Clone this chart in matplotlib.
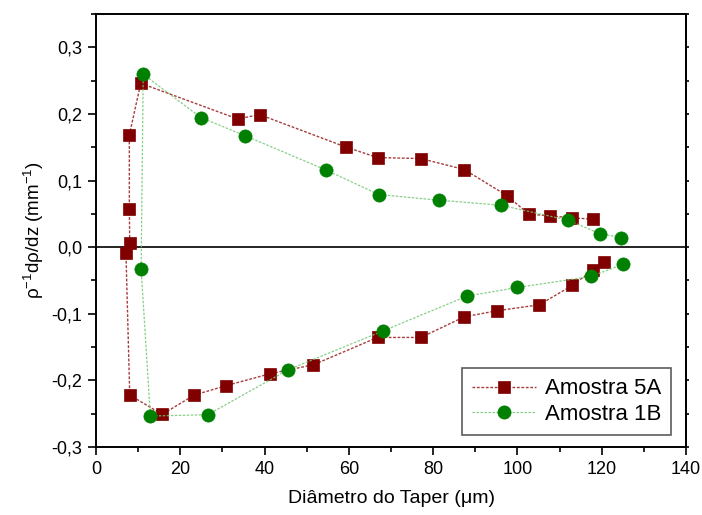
import matplotlib
matplotlib.use('Agg')
import matplotlib.pyplot as plt
from matplotlib.ticker import MultipleLocator, FuncFormatter, NullFormatter

plt.rcParams.update({
    'font.family': ['Liberation Sans', 'DejaVu Sans'],
    'mathtext.fontset': 'custom',
    'mathtext.rm': 'Liberation Sans',
    'mathtext.it': 'Liberation Sans',
    'mathtext.default': 'regular',
    'axes.linewidth': 1.4,
})

# ---------- Data ----------
x_5a = [118.0, 113.0, 107.8, 102.7, 97.5, 87.4, 77.1, 66.8, 59.2, 38.8, 33.6,
        10.6, 7.9, 7.9, 8.0, 7.1, 8.0, 15.7, 23.3, 30.8, 41.3, 51.6, 66.8,
        77.1, 87.4, 95.1, 105.2, 113.0, 118.0, 120.6]
y_5a = [0.042, 0.044, 0.047, 0.0495, 0.0775, 0.1165, 0.133, 0.1345, 0.1505, 0.199,
        0.1925, 0.246, 0.168, 0.058, 0.006, -0.0085, -0.222, -0.251, -0.222, -0.208,
        -0.190, -0.1765, -0.1355, -0.1355, -0.1045, -0.0955, -0.0865, -0.0575,
        -0.034, -0.023]

x_1b = [124.6, 119.7, 112.0, 96.1, 81.3, 67.1, 54.5, 35.3, 24.9, 11.2,
        10.7, 12.9, 26.5, 45.6, 68.2, 88.0, 100.0, 117.5, 125.1]
y_1b = [0.0145, 0.020, 0.0405, 0.063, 0.0705, 0.079, 0.116, 0.1675, 0.1945, 0.2595,
        -0.033, -0.2535, -0.2515, -0.184, -0.1255, -0.0735, -0.0605, -0.044, -0.0255]

RED = '#800000'
GREEN = '#008000'
RED_LINE = (0.6, 0.1, 0.1, 0.85)
GREEN_LINE = (0.45, 0.78, 0.45, 0.85)

fig = plt.figure(figsize=(7.02, 5.15), dpi=100)
ax = fig.add_axes([0.1368, 0.132, 0.8404, 0.8408])

ax.axhline(0, color='black', linewidth=1.2, zorder=1)

ax.plot(x_5a, y_5a, color=RED_LINE, linestyle=(0, (2, 1.2)), linewidth=1.0,
        marker='s', markersize=8.5, markerfacecolor=RED, markeredgecolor=RED,
        markeredgewidth=0.5, label='Amostra 5A', zorder=3)
ax.plot(x_1b, y_1b, color=GREEN_LINE, linestyle=(0, (2, 1.2)), linewidth=0.9,
        marker='o', markersize=9.5, markerfacecolor=GREEN, markeredgecolor=GREEN,
        markeredgewidth=0.5, label='Amostra 1B', zorder=4)

ax.set_xlim(0, 140)
ax.set_ylim(-0.3, 0.35)
ax.xaxis.set_major_locator(MultipleLocator(20))
ax.xaxis.set_minor_locator(MultipleLocator(10))
ax.yaxis.set_major_locator(MultipleLocator(0.1))
ax.yaxis.set_minor_locator(MultipleLocator(0.05))
ax.yaxis.set_major_formatter(FuncFormatter(lambda v, _: f'{v:.1f}'.replace('.', ',').replace('-0,0', '0,0')))

ax.tick_params(axis='both', which='major', direction='out', length=6, width=1.2,
               labelsize=13, pad=4)
ax.tick_params(axis='both', which='minor', direction='out', length=3.5, width=1.2)
ax.tick_params(top=False, right=False, which='both')

# short ticks on the right spine
rax = ax.secondary_yaxis('right')
rax.yaxis.set_major_locator(MultipleLocator(0.05))
rax.yaxis.set_major_formatter(NullFormatter())
rax.tick_params(direction='out', length=2, width=1.2)

ax.set_xlabel('Diâmetro do Taper (μm)', fontsize=14, labelpad=9)
ax.set_ylabel('ρ$^{-1}$dρ/dz (mm$^{-1}$)', fontsize=13.5, labelpad=4)

leg = ax.legend(loc='lower right', bbox_to_anchor=(0.975, 0.028), fontsize=16,
                frameon=True, fancybox=False, edgecolor='#333333',
                handlelength=2.9, borderpad=0.45, labelspacing=0.2,
                handletextpad=0.4, borderaxespad=0.0)
leg.get_frame().set_linewidth(1.2)

fig.savefig('out.png', dpi=100)
